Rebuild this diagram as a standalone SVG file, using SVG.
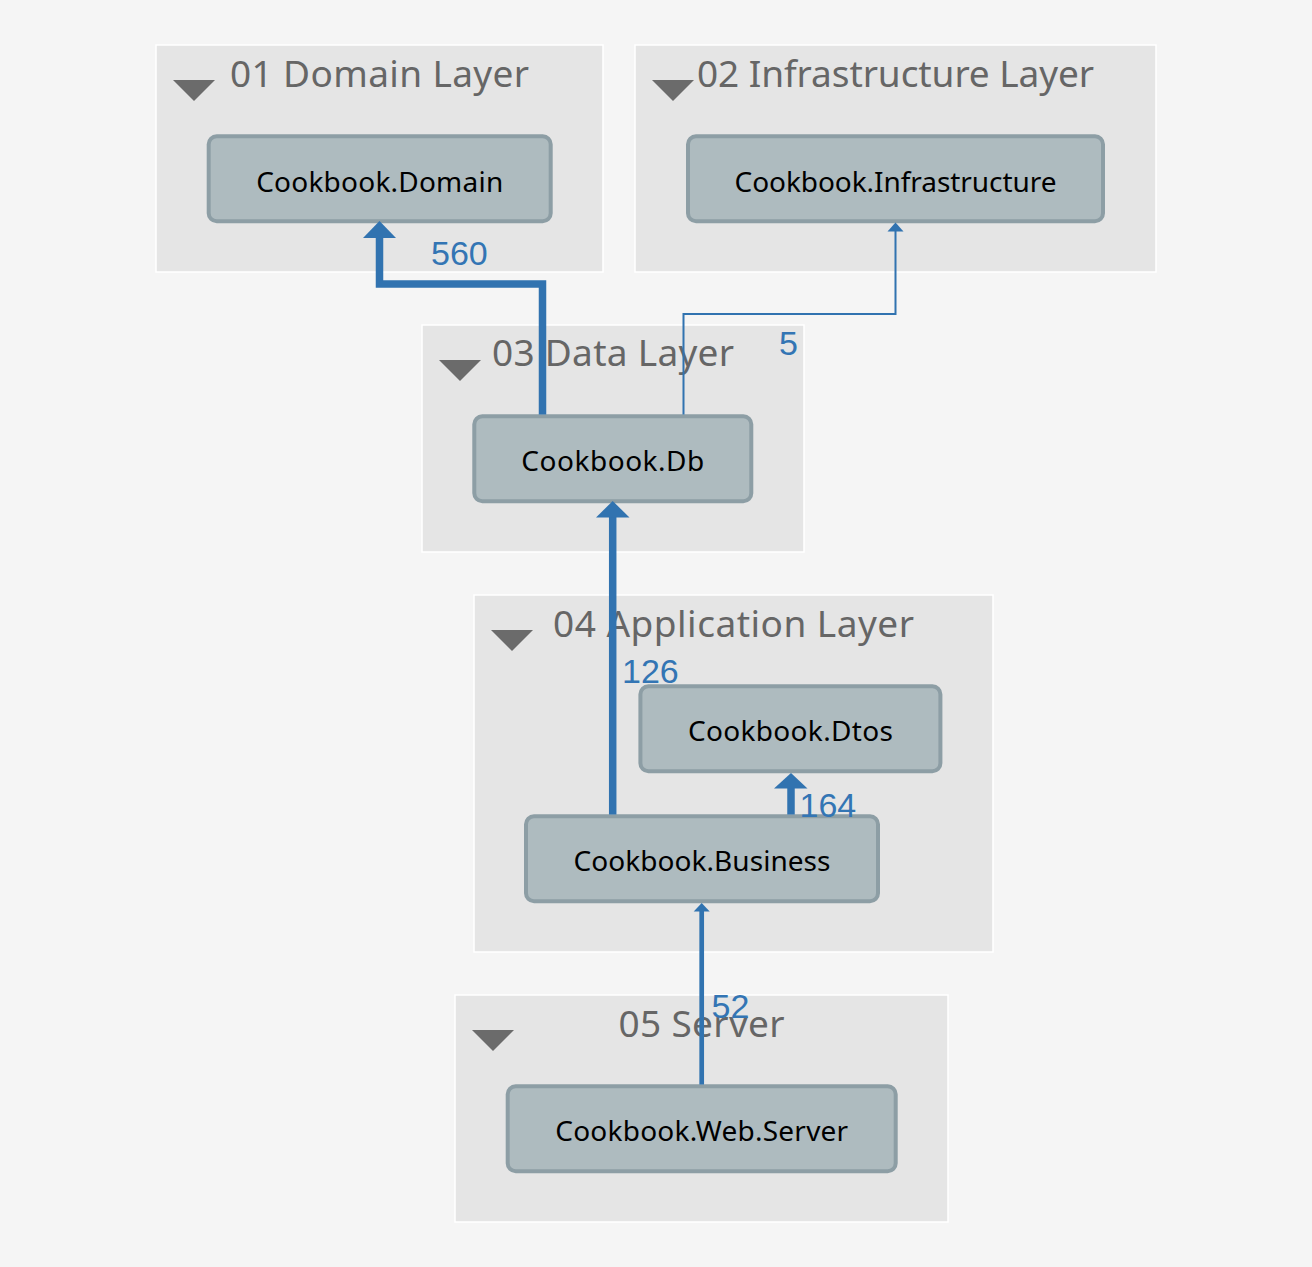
<svg xmlns="http://www.w3.org/2000/svg" width="1312" height="1267" viewBox="0 0 1312 1267">
<style>
.bg{fill:#f5f5f5}
.grp{fill:#e5e5e5;stroke:#ffffff;stroke-width:1.5}
.gt{font-family:"Noto Sans","Open Sans",sans-serif;font-size:37px;fill:#666666}
.tri{fill:#6b6b6b}
.node{fill:#aebbbf;stroke:#8d9ea5;stroke-width:4}
.nt{font-family:"Noto Sans","Open Sans",sans-serif;font-size:28px;fill:#000000;text-anchor:middle}
.e{fill:none;stroke:#3173b0;stroke-linejoin:miter}
.ah{fill:#3173b0}
.el{font-family:"Liberation Sans",Arial,sans-serif;font-size:34px;fill:#3375b4}
</style>
<rect class="bg" x="0" y="0" width="1312" height="1267"/>

<g id="layer01">
  <rect class="grp" x="156" y="45" width="447" height="227"/>
  <polygon class="tri" points="173,80 215,80 194,101"/>
  <text class="gt" x="230" y="87" textLength="299">01 Domain Layer</text>
  <g id="node-domain">
    <rect class="node" x="208.7" y="136.3" width="342" height="85" rx="8"/>
    <text class="nt" x="379.7" y="191.5" textLength="247">Cookbook.Domain</text>
  </g>
</g>

<g id="layer02">
  <rect class="grp" x="635" y="45" width="521" height="227"/>
  <polygon class="tri" points="652,80 694,80 673,101"/>
  <text class="gt" x="697" y="87" textLength="397">02 Infrastructure Layer</text>
  <g id="node-infrastructure">
    <rect class="node" x="688" y="136.3" width="415" height="85" rx="8"/>
    <text class="nt" x="895.5" y="191.5" textLength="322">Cookbook.Infrastructure</text>
  </g>
</g>

<g id="layer03">
  <rect class="grp" x="422" y="325" width="382" height="227"/>
  <polygon class="tri" points="439,360 481,360 460,381"/>
  <text class="gt" x="492" y="366" textLength="242">03 Data Layer</text>
  <g id="node-db">
    <rect class="node" x="474.3" y="416.3" width="277" height="85" rx="8"/>
    <text class="nt" x="612.8" y="471" textLength="183">Cookbook.Db</text>
  </g>
</g>

<g id="layer04">
  <rect class="grp" x="474" y="595" width="519" height="357"/>
  <polygon class="tri" points="491,630 533,630 512,651"/>
  <text class="gt" x="553" y="637" textLength="361">04 Application Layer</text>
  <g id="node-dtos">
    <rect class="node" x="640.4" y="686.3" width="300" height="85" rx="8"/>
    <text class="nt" x="790.4" y="741" textLength="205">Cookbook.Dtos</text>
  </g>
  <g id="node-business">
    <rect class="node" x="526" y="816.3" width="352" height="85" rx="8"/>
    <text class="nt" x="702" y="871" textLength="257">Cookbook.Business</text>
  </g>
</g>

<g id="layer05">
  <rect class="grp" x="455" y="995" width="493" height="227"/>
  <polygon class="tri" points="472,1030 514,1030 493,1051"/>
  <text class="gt" x="701.5" y="1037" text-anchor="middle" textLength="166">05 Server</text>
  <g id="node-webserver">
    <rect class="node" x="507.7" y="1086.3" width="388" height="85" rx="8"/>
    <text class="nt" x="701.7" y="1141" textLength="293">Cookbook.Web.Server</text>
  </g>
</g>

<g id="connectors">
  <g id="edge-db-domain">
    <path class="e" stroke-width="7.5" d="M542.5,414.5 V284 H379.5 V236"/>
    <polygon class="ah" points="363,238 396,238 379.5,221"/>
    <text class="el" x="431" y="265">560</text>
  </g>
  <g id="edge-db-infrastructure">
    <path class="e" stroke-width="2" d="M683.5,414.5 V314 H895.5 V230"/>
    <polygon class="ah" points="887.5,231.5 903.5,231.5 895.5,222.5"/>
    <text class="el" x="779" y="355">5</text>
  </g>
  <g id="edge-business-db">
    <path class="e" stroke-width="7.5" d="M612.7,814.5 V515"/>
    <polygon class="ah" points="596,517.5 629.5,517.5 612.7,501"/>
    <text class="el" x="622" y="683">126</text>
  </g>
  <g id="edge-business-dtos">
    <path class="e" stroke-width="7.5" d="M791,814.5 V786"/>
    <polygon class="ah" points="774,788.5 807.5,788.5 791,773"/>
    <text class="el" x="799.5" y="817">164</text>
  </g>
  <g id="edge-webserver-business">
    <path class="e" stroke-width="4.7" d="M701.7,1084.5 V909"/>
    <polygon class="ah" points="693.7,911.5 709.7,911.5 701.7,903"/>
    <text class="el" x="711.5" y="1018">52</text>
  </g>
</g>
</svg>
